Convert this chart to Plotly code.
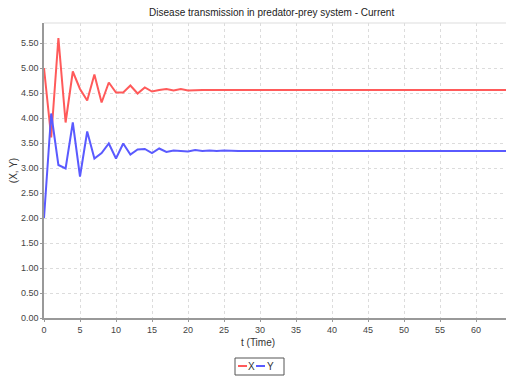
import plotly.graph_objects as go

t = list(range(0, 66))
x_vals = [5.00, 3.61, 5.60, 3.91, 4.93, 4.58, 4.35, 4.87, 4.31, 4.71, 4.51, 4.51, 4.65, 4.49,
          4.61, 4.53, 4.56, 4.58, 4.55, 4.58, 4.55] + [4.56] * 45
y_vals = [2.00, 4.09, 3.06, 2.99, 3.91, 2.83, 3.73, 3.19, 3.30, 3.49, 3.19, 3.49, 3.27, 3.37,
          3.38, 3.30, 3.39, 3.32, 3.35, 3.34, 3.33, 3.36, 3.34, 3.35, 3.34, 3.35] + [3.34] * 40
series_names = ["X", "Y"]
series_colors = ["#ff5a5a", "#5a5aff"]
y_ticks = [i * 0.5 for i in range(12)]
y_tick_text = ["%.2f" % v for v in y_ticks]
x_ticks = list(range(0, 70, 5))

fig = go.Figure()
for name, vals, col in zip(series_names, [x_vals, y_vals], series_colors):
    fig.add_trace(go.Scatter(x=t, y=vals, mode="lines", name=name,
                             line=dict(color=col, width=2), showlegend=False))

font = "Liberation Sans, Arial, sans-serif"
OFF = 8  # page body margin offset
L, T, R, B = 44 - OFF, 23 - OFF, 10, 69
W, H = 514, 379
pw, ph = W - L - R, H - T - B


def px(x):  # window pixel x -> paper
    return (x - OFF - L) / pw


def py(y):  # window pixel y -> paper
    return (ph - (y - OFF - T)) / ph


fig.update_layout(
    width=W, height=H,
    margin=dict(l=L, r=R, t=T, b=B, autoexpand=False),
    paper_bgcolor="white", plot_bgcolor="white",
    title=dict(text="Disease transmission in predator-prey system - Current",
               x=250 / W, xanchor="center", xref="paper", y=1 - 1 / H, yanchor="top",
               font=dict(family=font, size=10, color="#222")),
    font=dict(family=font, size=9, color="#444"),
    xaxis=dict(range=[0, 65], tickvals=x_ticks, showgrid=True, gridcolor="#dcdcdc",
               griddash="dot", zeroline=False, showline=True, linecolor="#999999",
               linewidth=1.5, ticks="outside", ticklen=2, tickcolor="#999",
               automargin=False),
    yaxis=dict(range=[0, 5.9], tickvals=y_ticks, ticktext=y_tick_text, showgrid=True,
               gridcolor="#dcdcdc", griddash="dot", zeroline=False, showline=True,
               linecolor="#999999", linewidth=1.5, ticks="outside", ticklen=2, tickcolor="#999",
               title=dict(text="(X, Y)", font=dict(size=10, color="#333"), standoff=4),
               automargin=False),
    showlegend=False,
)
fig.add_annotation(text="t (Time)", xref="paper", yref="paper",
                   x=px(258), y=py(342.5),
                   xanchor="center", yanchor="middle", showarrow=False,
                   font=dict(family=font, size=10, color="#333"))
fig.add_shape(type="line", xref="paper", yref="paper", x0=0, x1=1, y0=1, y1=1,
              line=dict(color="#dddddd", width=1))

# legend box (drawn below the plot)
fig.add_shape(type="rect", xref="paper", yref="paper", x0=px(235), x1=px(284),
              y0=py(375), y1=py(358), line=dict(color="#555", width=1),
              fillcolor="white")
leg_line_x = [(238, 247), (256, 265)]
leg_text_x = [251.5, 270]
for name, col, (a, b), tx in zip(series_names, series_colors, leg_line_x, leg_text_x):
    fig.add_shape(type="line", xref="paper", yref="paper", x0=px(a), x1=px(b),
                  y0=py(366), y1=py(366), line=dict(color=col, width=2))
    fig.add_annotation(text=name, xref="paper", yref="paper", x=px(tx), y=py(366.5),
                       xanchor="center", yanchor="middle", showarrow=False,
                       font=dict(family=font, size=10, color="#333"))
fig.write_html("out.html")
